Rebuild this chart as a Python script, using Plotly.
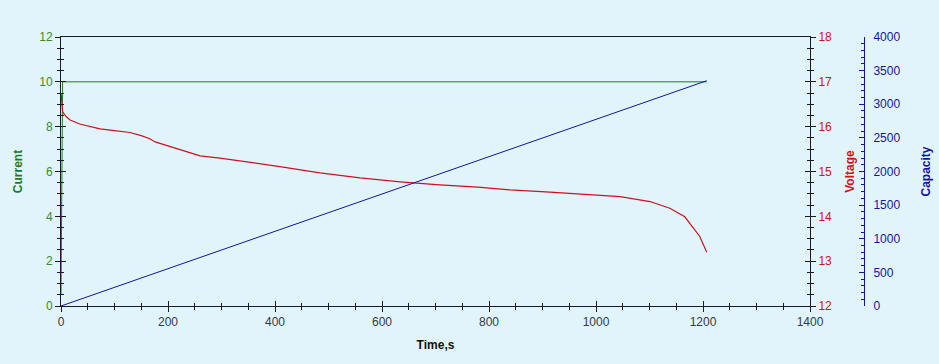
import plotly.graph_objects as go

# ---- data ----
time_v = [0, 1, 3, 10, 17, 35, 73, 100, 129, 150, 166, 176, 213, 260, 297, 335, 409, 484,
          559, 634, 708, 779, 839, 914, 989, 1045, 1101, 1138, 1166, 1194, 1207]
voltage = [16.75, 16.5, 16.33, 16.22, 16.15, 16.06, 15.95, 15.91, 15.87, 15.8, 15.73, 15.66, 15.52,
           15.35, 15.30, 15.24, 15.11, 14.97, 14.86, 14.77, 14.70, 14.65, 14.59, 14.54,
           14.49, 14.44, 14.33, 14.18, 13.99, 13.55, 13.2]
time_i = [0, 3, 1207]
current = [0.5, 10.0, 10.0]
time_c = [0, 1207]
capacity = [0, 3350]

BG = "#E1F4FB"
W, H = 939, 364
L, R, T, B = 61, 69, 37, 58
plot_w = W - L - R
xdom = (810 - L) / plot_w
cap_pos = (864 - L) / plot_w

fig = go.Figure()
fig.add_trace(go.Scatter(x=time_i, y=current, mode="lines", line=dict(color="#1E7A1E", width=1),
                         xaxis="x", yaxis="y", showlegend=False))
fig.add_trace(go.Scatter(x=time_c, y=capacity, mode="lines", line=dict(color="#1414A0", width=1),
                         xaxis="x", yaxis="y3", showlegend=False))
fig.add_trace(go.Scatter(x=time_v, y=voltage, mode="lines", line=dict(color="#D0101C", width=1.2),
                         xaxis="x", yaxis="y2", showlegend=False))

font = dict(family="Liberation Sans, Arial, sans-serif", size=12)
tf = dict(family="Liberation Sans, Arial, sans-serif", size=12, weight="bold")

common_x = dict(range=[0, 1400], domain=[0, xdom], showgrid=False, zeroline=False,
                showline=True, linecolor="#1a1a2a", linewidth=1, automargin=False)
fig.update_layout(
    width=W, height=H, margin=dict(l=L, r=R, t=T, b=B, autoexpand=False),
    paper_bgcolor=BG, plot_bgcolor=BG, font=font,
    xaxis=dict(**common_x, mirror=True, dtick=200, ticks="outside", ticklen=5, tickcolor="#1a1a2a",
               tickfont=dict(color="#333848", size=12),
               minor=dict(dtick=50, ticks="outside", ticklen=3, tickcolor="#1a1a2a"),
               title=dict(text="Time,s", font=dict(**tf, color="#111"), standoff=12),
               anchor="y"),
    xaxis2=dict(**common_x, overlaying="x", anchor="y", dtick=200, ticks="inside", ticklen=5,
                tickcolor="#1a1a2a", showticklabels=False,
                minor=dict(dtick=50, ticks="inside", ticklen=3, tickcolor="#1a1a2a")),
    yaxis=dict(range=[0, 12], dtick=2, showgrid=False, zeroline=False, showline=True, automargin=False,
               linecolor="#1a1a2a", mirror=True, ticks="outside", ticklen=5, tickcolor="#1a1a2a",
               minor=dict(dtick=0.5, ticks="outside", ticklen=3, tickcolor="#1a1a2a"),
               tickfont=dict(color="#3C8C28", size=12),
               title=dict(text="Current", font=dict(**tf, color="#1E7A1E"), standoff=14),
               anchor="x"),
    yaxis4=dict(range=[0, 12], dtick=2, showgrid=False, zeroline=False, overlaying="y", automargin=False,
                anchor="x", ticks="inside", ticklen=5, tickcolor="#1a1a2a", showticklabels=False,
                minor=dict(dtick=0.5, ticks="inside", ticklen=3, tickcolor="#1a1a2a")),
    yaxis2=dict(range=[12, 18], dtick=1, showgrid=False, zeroline=False, showline=True, automargin=False,
                linecolor="#1a1a2a", overlaying="y", side="right", anchor="x",
                ticks="outside", ticklen=5, tickcolor="#1a1a2a",
                minor=dict(dtick=0.25, ticks="outside", ticklen=3, tickcolor="#1a1a2a"),
                tickfont=dict(color="#D0101C", size=12),
                title=dict(text="Voltage", font=dict(**tf, color="#D0101C"), standoff=14)),
    yaxis5=dict(range=[12, 18], dtick=1, showgrid=False, zeroline=False, overlaying="y", automargin=False,
                side="right", anchor="x", ticks="inside", ticklen=5, tickcolor="#1a1a2a",
                showticklabels=False,
                minor=dict(dtick=0.25, ticks="inside", ticklen=3, tickcolor="#1a1a2a")),
    yaxis3=dict(range=[0, 4000], dtick=500, showgrid=False, zeroline=False, showline=True, automargin=False,
                linecolor="#1414A0", overlaying="y", side="right", anchor="free",
                position=cap_pos, ticks="inside", ticklen=5, tickcolor="#1414A0",
                ticklabelstandoff=6,
                minor=dict(dtick=100, ticks="inside", ticklen=3, tickcolor="#1414A0"),
                tickfont=dict(color="#1414A0", size=12),
                title=dict(text="Capacity", font=dict(**tf, color="#1414A0"), standoff=22)),
)
# dummy traces to activate overlay axes
fig.add_trace(go.Scatter(x=[None], y=[None], xaxis="x2", yaxis="y4", showlegend=False, hoverinfo="skip"))
fig.add_trace(go.Scatter(x=[None], y=[None], xaxis="x2", yaxis="y5", showlegend=False, hoverinfo="skip"))

fig.write_html("out.html", config={"displayModeBar": False},
               post_script="document.body.style.margin='0';document.body.style.background='#E1F4FB';")
